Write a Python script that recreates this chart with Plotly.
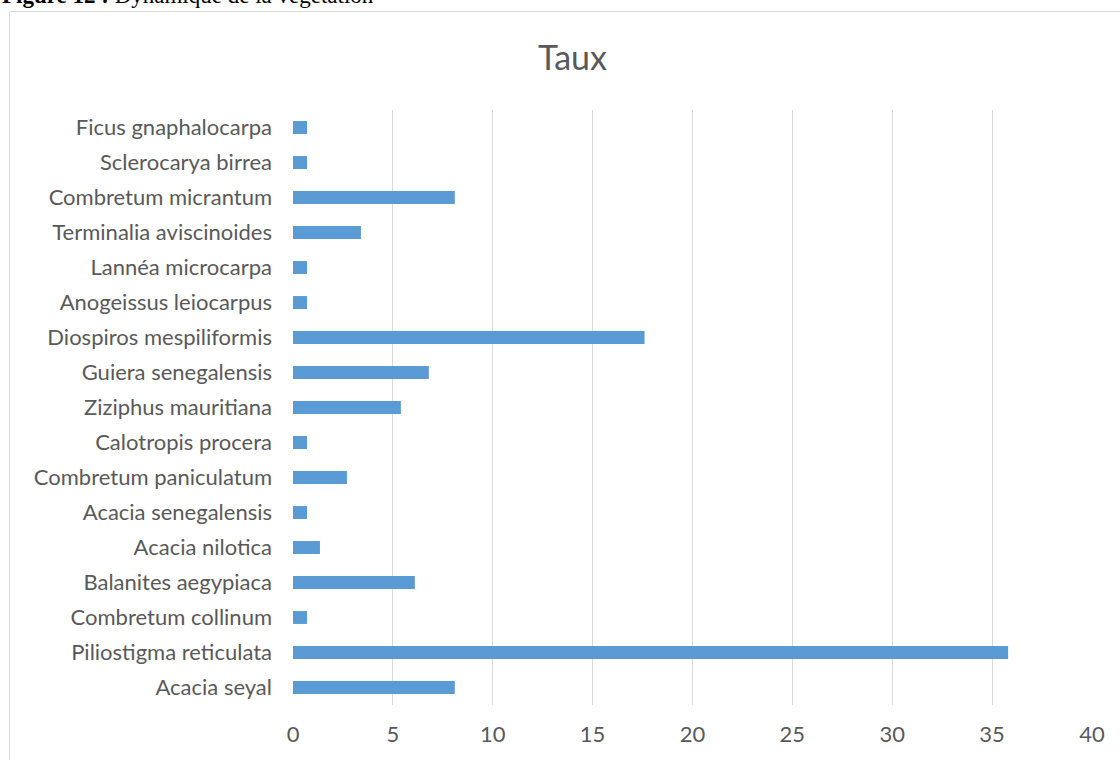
import plotly.graph_objects as go

species = [
    "Ficus gnaphalocarpa", "Sclerocarya birrea", "Combretum micrantum",
    "Terminalia aviscinoides", "Lannéa microcarpa", "Anogeissus leiocarpus",
    "Diospiros mespiliformis", "Guiera senegalensis", "Ziziphus mauritiana",
    "Calotropis procera", "Combretum paniculatum", "Acacia senegalensis",
    "Acacia nilotica", "Balanites aegypiaca", "Combretum collinum",
    "Piliostigma reticulata", "Acacia seyal",
]
taux = [0.7, 0.7, 8.1, 3.4, 0.7, 0.7, 17.6, 6.8, 5.4, 0.7, 2.7, 0.7, 1.35, 6.1, 0.7, 35.8, 8.1]
x_ticks = [0, 5, 10, 15, 20, 25, 30, 35, 40]

W, H = 1120, 760
L, R, T, B = 293, 28, 110, 55
pw, ph = W - L - R, H - T - B

def px(x):
    return (x - L) / pw

def py(y):
    return (H - B - y) / ph

fig = go.Figure(go.Bar(
    x=taux, y=species, orientation="h",
    marker=dict(color="#5b9bd5", line=dict(width=0)),
    width=0.37, hoverinfo="x+y",
))

fig.update_layout(
    width=W, height=H,
    margin=dict(l=L, r=R, t=T, b=B, autoexpand=False),
    paper_bgcolor="white", plot_bgcolor="white",
    font=dict(family="Lato, Carlito, sans-serif", color="#595959", size=22),
    showlegend=False,
    xaxis=dict(
        range=[0, 40], tickvals=x_ticks, showgrid=True, gridcolor="#d9d9d9",
        gridwidth=1, zeroline=False, showline=False, ticks="",
        ticklabelstandoff=14, tickfont=dict(size=22, color="#595959"),
        fixedrange=True,
    ),
    yaxis=dict(
        categoryorder="array", categoryarray=species, autorange="reversed",
        showgrid=False, zeroline=False, showline=False, ticks="",
        ticklabelstandoff=20, tickfont=dict(size=22, color="#595959"),
        fixedrange=True,
    ),
    shapes=[
        dict(type="rect", xref="paper", yref="paper",
             x0=px(9.5), x1=px(1130), y0=py(11.5), y1=py(775),
             line=dict(color="#d9d9d9", width=1), fillcolor="rgba(0,0,0,0)", layer="below"),
    ],
    annotations=[
        dict(text="Taux", xref="paper", yref="paper", x=px(572), y=py(56),
             xanchor="center", yanchor="middle", showarrow=False,
             font=dict(family="Lato, Carlito, sans-serif", size=34, color="#595959")),
        dict(text="<b>Figure 12 :</b> Dynamique de la végétation", xref="paper", yref="paper",
             x=px(0), y=py(10), xanchor="left", yanchor="bottom", showarrow=False,
             font=dict(family="Liberation Serif, Times New Roman, serif", size=23, color="black")),
    ],
)

fig.write_html("out.html")
